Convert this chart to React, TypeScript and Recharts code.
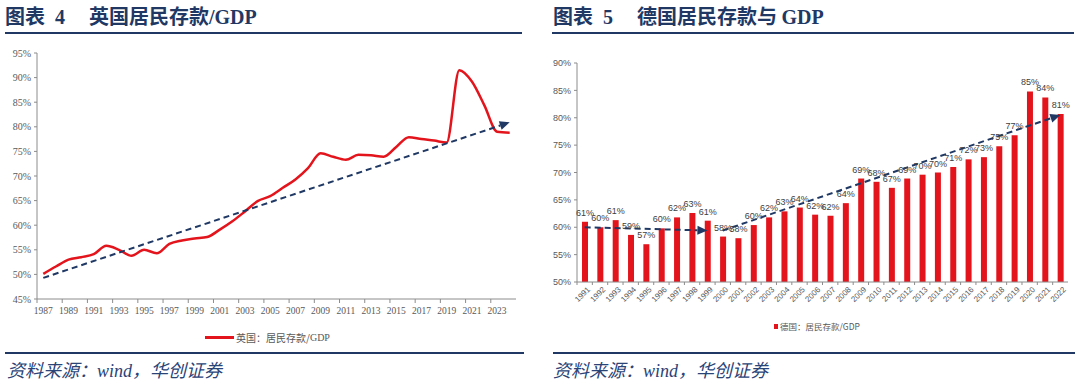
import React from 'react'
import { LineChart, Line, BarChart, Bar, XAxis, YAxis, ReferenceLine, LabelList } from 'recharts'

// 英国居民存款/GDP (%)
const ukYears = [
  '1987', '1988', '1989', '1990', '1991', '1992', '1993', '1994', '1995', '1996',
  '1997', '1998', '1999', '2000', '2001', '2002', '2003', '2004', '2005', '2006',
  '2007', '2008', '2009', '2010', '2011', '2012', '2013', '2014', '2015', '2016',
  '2017', '2018', '2019', '2020', '2021', '2022', '2023', '2024',
]
const ukRatio = [
  50.1, 51.6, 53.0, 53.5, 54.1, 55.8, 55.0, 53.8, 55.0, 54.3,
  56.2, 56.9, 57.3, 57.6, 59.1, 60.8, 62.8, 64.9, 65.9, 67.6,
  69.3, 71.6, 74.6, 73.9, 73.3, 74.3, 74.2, 73.9, 75.9, 77.9,
  77.5, 77.2, 76.8, 91.5, 89.2, 84.3, 79.0, 78.8,
]
const ukTicks = [45, 50, 55, 60, 65, 70, 75, 80, 85, 90, 95]
const ukTrend = [{ x: '1987', y: 49.3 }, { x: '2024', y: 80.9 }]

// 德国居民存款与GDP (%)
const deYears = [
  '1991', '1992', '1993', '1994', '1995', '1996', '1997', '1998', '1999', '2000',
  '2001', '2002', '2003', '2004', '2005', '2006', '2007', '2008', '2009', '2010',
  '2011', '2012', '2013', '2014', '2015', '2016', '2017', '2018', '2019', '2020',
  '2021', '2022',
]
const deRatio = [
  61.0, 60.0, 61.3, 58.6, 56.9, 59.8, 61.8, 62.6, 61.2, 58.3,
  58.0, 60.4, 61.8, 62.9, 63.6, 62.3, 62.1, 64.4, 68.9, 68.3,
  67.2, 68.9, 69.6, 70.0, 71.0, 72.4, 72.8, 74.8, 76.8, 84.8,
  83.7, 80.7,
]
const deTicks = [50, 55, 60, 65, 70, 75, 80, 85, 90]
const deTrendA = [{ x: '1991', y: 60.0 }, { x: '1999', y: 59.4 }]
const deTrendB = [{ x: '2000', y: 59.4 }, { x: '2022', y: 80.5 }]

const ukRows = ukYears.map((year, i) => ({ year, value: ukRatio[i] }))
const deRows = deYears.map((year, i) => ({ year, value: deRatio[i] }))

const NAVY = '#1F3864'
const RED = '#E3141C'
const GREY = '#595959'
const AXIS = '#8C8C8C'
const SERIF = "'Liberation Serif', 'Times New Roman', serif"
const NARROW = "'Liberation Sans Narrow', 'Liberation Sans', Arial, sans-serif"
const CJK = "'Noto Sans CJK SC', sans-serif"

// plot widths / category counts, used for the between-category tick marks
const UK_BAND = (530 - 37 - 14) / 38
const DE_BAND = (540 - 37 - 12) / 32

function TrendArrow(props: any) {
  const { x1, y1, x2, y2 } = props
  const a = Math.atan2(y2 - y1, x2 - x1)
  const len = 10
  const half = 4.5
  const bx = x2 - len * Math.cos(a)
  const by = y2 - len * Math.sin(a)
  const px = -Math.sin(a) * half
  const py = Math.cos(a) * half
  return (
    <g>
      <line x1={x1} y1={y1} x2={bx} y2={by} stroke={NAVY} strokeWidth={2} strokeDasharray="6 4" />
      <polygon points={`${x2},${y2} ${bx + px},${by + py} ${bx - px},${by - py}`} fill={NAVY} />
    </g>
  )
}

function UkTick({ x, y, payload }: any) {
  return (
    <g>
      <line x1={x - UK_BAND / 2} y1={y} x2={x - UK_BAND / 2} y2={y + 4} stroke={AXIS} />
      <text x={x} y={y + 15} textAnchor="middle" fontSize={9.5} fontFamily={SERIF} fill={GREY}>
        {payload.value}
      </text>
    </g>
  )
}

function DeTick({ x, y, payload }: any) {
  return (
    <g>
      <line x1={x - DE_BAND / 2} y1={y} x2={x - DE_BAND / 2} y2={y + 3} stroke={AXIS} />
      <text
        transform={`translate(${x + 4},${y + 6}) rotate(-45)`}
        textAnchor="end"
        dy="0.35em"
        fontSize={8}
        fontFamily={NARROW}
        fill={GREY}
      >
        {payload.value}
      </text>
    </g>
  )
}

function Title({ left, num, text, gdp }: { left: number; num: string; text: string; gdp: string }) {
  return (
    <div style={{ position: 'absolute', left, top: 5, fontSize: 20, lineHeight: '22px', fontWeight: 700, color: NAVY, whiteSpace: 'nowrap' }}>
      <span style={{ fontFamily: CJK }}>图表</span>
      <span style={{ fontFamily: SERIF, marginLeft: 10 }}>{num}</span>
      <span style={{ fontFamily: CJK, marginLeft: 24 }}>{text}</span>
      <span style={{ fontFamily: SERIF }}>{gdp}</span>
    </div>
  )
}

function Source({ left }: { left: number }) {
  return (
    <div style={{ position: 'absolute', left, top: 358, fontSize: 18, lineHeight: '22px', fontStyle: 'italic', color: '#2B4477', whiteSpace: 'nowrap' }}>
      <span style={{ fontFamily: CJK }}>资料来源：</span>
      <span style={{ fontFamily: SERIF }}>wind</span>
      <span style={{ fontFamily: CJK }}>，华创证券</span>
    </div>
  )
}

function Rule({ left, top, width }: { left: number; top: number; width: number }) {
  return <div style={{ position: 'absolute', left, top, width, height: 2, background: NAVY }} />
}

export default function App() {
  return (
    <div style={{ position: 'absolute', left: 0, top: 0, width: 1080, height: 384, background: '#fff', overflow: 'hidden' }}>
      <div style={{ position: 'absolute', left: 0, top: 0 }}>
        <LineChart width={530} height={330} data={ukRows} margin={{ top: 53, right: 14, bottom: 6, left: 0 }}>
          <XAxis
            dataKey="year"
            interval={1}
            height={25}
            padding={{ left: UK_BAND / 2, right: UK_BAND / 2 }}
            tickSize={0}
            tickMargin={0}
            tick={<UkTick />}
            axisLine={{ stroke: AXIS }}
          />
          <YAxis
            domain={[45, 95]}
            ticks={ukTicks}
            width={37}
            tickFormatter={v => `${v}%`}
            tick={{ fontSize: 10, fontFamily: SERIF, fill: GREY }}
            tickSize={3}
            tickMargin={3}
            tickLine={{ stroke: AXIS }}
            axisLine={{ stroke: AXIS }}
          />
          <Line type="monotone" dataKey="value" stroke={RED} strokeWidth={2.5} dot={false} isAnimationActive={false} />
          <ReferenceLine segment={ukTrend} shape={TrendArrow} ifOverflow="visible" />
        </LineChart>
      </div>

      <div style={{ position: 'absolute', left: 540, top: 0 }}>
        <BarChart width={540} height={320} data={deRows} margin={{ top: 63, right: 12, bottom: 8, left: 0 }} barSize={6}>
          <XAxis
            dataKey="year"
            interval={0}
            height={30}
            tickSize={0}
            tickMargin={0}
            tick={<DeTick />}
            axisLine={{ stroke: AXIS }}
          />
          <YAxis
            domain={[50, 90]}
            ticks={deTicks}
            width={37}
            tickFormatter={v => `${v}%`}
            tick={{ fontSize: 9, fontFamily: NARROW, fill: GREY }}
            tickSize={3}
            tickMargin={3}
            tickLine={{ stroke: AXIS }}
            axisLine={{ stroke: AXIS }}
          />
          <Bar dataKey="value" fill={RED} isAnimationActive={false}>
            <LabelList
              dataKey="value"
              position="top"
              offset={6}
              formatter={(v: any) => `${Math.round(Number(v))}%`}
              style={{ fontSize: 9, fontFamily: NARROW, fill: '#404040' }}
            />
          </Bar>
          <ReferenceLine segment={deTrendA} shape={TrendArrow} ifOverflow="visible" />
          <ReferenceLine segment={deTrendB} shape={TrendArrow} ifOverflow="visible" />
        </BarChart>
      </div>

      <Title left={5} num="4" text="英国居民存款" gdp="/GDP" />
      <Title left={553} num="5" text="德国居民存款与 " gdp="GDP" />
      <Rule left={5} top={32} width={517} />
      <Rule left={552} top={32} width={522} />

      <div style={{ position: 'absolute', left: 205, top: 330, display: 'flex', alignItems: 'center', fontSize: 10, color: GREY, fontFamily: CJK, whiteSpace: 'nowrap' }}>
        <span style={{ display: 'inline-block', width: 29, height: 3, background: RED, marginRight: 2 }} />
        <span>英国：居民存款/</span>
        <span style={{ fontFamily: SERIF }}>GDP</span>
      </div>
      <div style={{ position: 'absolute', left: 774, top: 320, display: 'flex', alignItems: 'center', fontSize: 8.5, color: GREY, fontFamily: CJK, whiteSpace: 'nowrap' }}>
        <span style={{ display: 'inline-block', width: 4, height: 5, background: RED, marginRight: 2 }} />
        <span>德国：居民存款/GDP</span>
      </div>

      <Rule left={5} top={352} width={519} />
      <Rule left={553} top={352} width={522} />
      <Source left={7} />
      <Source left={553} />
    </div>
  )
}
